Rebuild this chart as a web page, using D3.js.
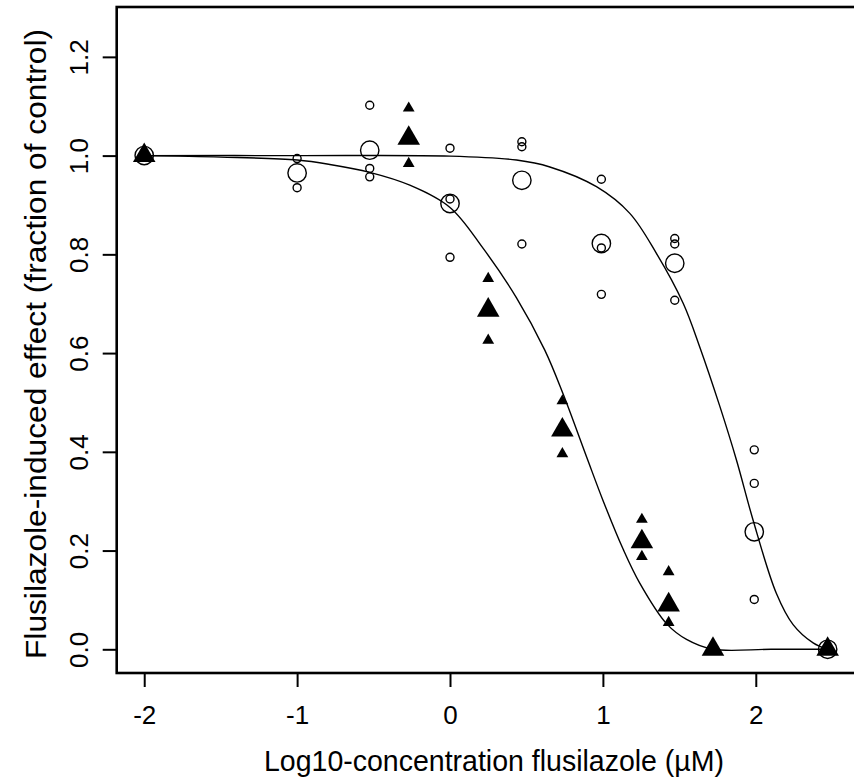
<!DOCTYPE html>
<html>
<head>
<meta charset="utf-8">
<script src="https://cdn.jsdelivr.net/npm/d3@7"></script>
<style>
  body { margin: 0; background: #fff; }
  text { font-family: "Liberation Sans", Arial, sans-serif; fill: #000; }
</style>
</head>
<body>
<div id="vis"></div>
<script>
// tick labels
const xTicks = [-2, -1, 0, 1, 2];
const yTicks = [0, 0.2, 0.4, 0.6, 0.8, 1.0, 1.2];

// open circles: means (big) and replicates (small)
const circleMeanX = [-2, -1, -0.525, 0, 0.47, 0.99, 1.47, 1.99, 2.47];
const circleMeanY = [1.0, 0.965, 1.011, 0.903, 0.950, 0.822, 0.782, 0.238, 0.0];
const circleRepX = [-2, -1, -1, -0.525, -0.525, -0.525, 0, 0, 0, 0.47, 0.47, 0.47,
  0.99, 0.99, 0.99, 1.47, 1.47, 1.47, 1.99, 1.99, 1.99, 2.47, 2.47];
const circleRepY = [1.0, 0.994, 0.935, 1.102, 0.974, 0.957, 1.015, 0.912, 0.794, 1.028, 1.018, 0.821,
  0.952, 0.813, 0.719, 0.832, 0.821, 0.707, 0.404, 0.336, 0.101, 0.0, 0.0];

// filled triangles: means (big) and replicates (small)
const triMeanX = [-2, -0.27, 0.25, 0.735, 1.255, 1.43, 1.72, 2.47];
const triMeanY = [1.0, 1.035, 0.687, 0.444, 0.218, 0.090, 0.0, 0.0];
const triRepX = [-0.27, -0.27, 0.25, 0.25, 0.735, 0.735, 1.255, 1.255, 1.43, 1.43];
const triRepY = [1.096, 0.984, 0.751, 0.626, 0.503, 0.396, 0.263, 0.188, 0.157, 0.054];

// fitted curves
const curveAx = [-2, -1.5, -1, -0.786, -0.525, -0.263, 0, 0.217, 0.435, 0.62, 0.74, 0.893, 1.0, 1.132, 1.241, 1.416, 1.547, 1.72, 2.1, 2.47];
const curveAy = [1.0, 0.997, 0.991, 0.982, 0.966, 0.94, 0.895, 0.812, 0.712, 0.606, 0.517, 0.39, 0.302, 0.203, 0.134, 0.052, 0.02, 0.0, 0.0, 0.0];
const curveBx = [-2, -1, 0, 0.435, 0.653, 0.958, 1.176, 1.35, 1.525, 1.634, 1.765, 1.874, 1.982, 2.135, 2.244, 2.375, 2.47];
const curveBy = [1.0, 1.0, 0.999, 0.991, 0.977, 0.937, 0.883, 0.802, 0.701, 0.612, 0.492, 0.383, 0.262, 0.113, 0.05, 0.013, 0.0];

const width = 854, height = 780;
const plot = { left: 116.7, right: 857, top: 7, bottom: 673 };

const svg = d3.select("#vis")
  .append("svg")
  .attr("width", width)
  .attr("height", height);

const x = d3.scaleLinear()
  .domain([-2.18, 2.662])
  .range([plot.left, plot.right]);

const y = d3.scaleLinear()
  .domain([-0.048, 1.301])
  .range([plot.bottom, plot.top]);

// x axis (plain hyphen for negatives, like R)
const xAxis = svg.append("g")
  .attr("transform", "translate(0," + plot.bottom + ")")
  .call(d3.axisBottom(x).tickValues(xTicks).tickSize(14).tickPadding(19).tickFormat(d => String(d)));
xAxis.select(".domain").remove();
xAxis.selectAll(".tick line").attr("stroke", "#000").attr("stroke-width", 2);
xAxis.selectAll(".tick text")
  .style("font-size", "26px")
  .style("font-family", "'Liberation Sans', Arial, sans-serif");

// y axis, labels turned like R
const yAxis = svg.append("g")
  .attr("transform", "translate(" + plot.left + ",0)")
  .call(d3.axisLeft(y).tickValues(yTicks).tickSize(14).tickFormat(d3.format(".1f")));
yAxis.select(".domain").remove();
yAxis.selectAll(".tick line").attr("stroke", "#000").attr("stroke-width", 2);
yAxis.selectAll(".tick text")
  .attr("x", null)
  .attr("dy", null)
  .attr("text-anchor", "middle")
  .attr("transform", "translate(" + (88 - plot.left) + ",0) rotate(-90)")
  .style("font-size", "26px")
  .style("font-family", "'Liberation Sans', Arial, sans-serif");

// frame
svg.append("rect")
  .attr("x", plot.left)
  .attr("y", plot.top)
  .attr("width", plot.right - plot.left)
  .attr("height", plot.bottom - plot.top)
  .attr("fill", "none")
  .attr("stroke", "#000")
  .attr("stroke-width", 2.6);

// curves
const line = d3.line()
  .x(d => x(d[0]))
  .y(d => y(d[1]))
  .curve(d3.curveCatmullRom.alpha(0.5));

[[curveAx, curveAy], [curveBx, curveBy]].forEach(function (c) {
  svg.append("path")
    .datum(d3.zip(c[0], c[1]))
    .attr("d", line)
    .attr("fill", "none")
    .attr("stroke", "#000")
    .attr("stroke-width", 1.4);
});

// open circles
function circles(xs, ys, r) {
  svg.append("g")
    .selectAll("circle")
    .data(d3.zip(xs, ys))
    .join("circle")
      .attr("cx", d => x(d[0]))
      .attr("cy", d => y(d[1]))
      .attr("r", r)
      .attr("fill", "none")
      .attr("stroke", "#000")
      .attr("stroke-width", 1.4);
}
circles(circleRepX, circleRepY, 4);
circles(circleMeanX, circleMeanY, 9.2);

// filled triangles
function triangles(xs, ys, size) {
  svg.append("g")
    .selectAll("path")
    .data(d3.zip(xs, ys))
    .join("path")
      .attr("transform", d => "translate(" + x(d[0]) + "," + y(d[1]) + ")")
      .attr("d", d3.symbol().type(d3.symbolTriangle).size(size))
      .attr("fill", "#000");
}
triangles(triRepX, triRepY, 60);
triangles(triMeanX, triMeanY, 220);

// axis titles
svg.append("text")
  .attr("x", 494)
  .attr("y", 771)
  .attr("text-anchor", "middle")
  .attr("textLength", 460)
  .attr("lengthAdjust", "spacingAndGlyphs")
  .style("font-size", "30px")
  .text("Log10-concentration flusilazole (µM)");

svg.append("text")
  .attr("transform", "translate(46,344) rotate(-90)")
  .attr("text-anchor", "middle")
  .attr("textLength", 630)
  .attr("lengthAdjust", "spacingAndGlyphs")
  .style("font-size", "29px")
  .text("Flusilazole-induced effect (fraction of control)");
</script>
</body>
</html>
